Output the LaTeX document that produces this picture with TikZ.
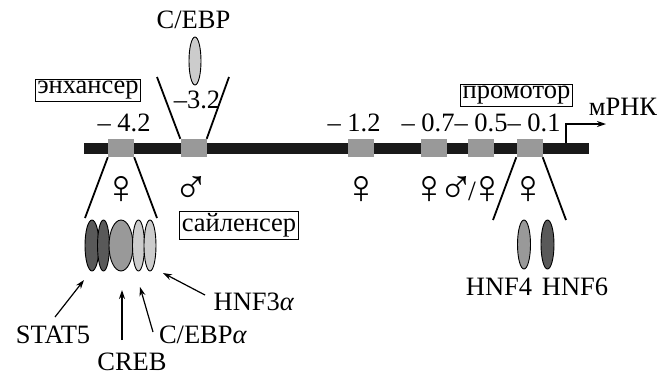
\documentclass[tikz,border=0pt]{standalone}
\usepackage{fontspec}
\setmainfont{Liberation Serif}
\usetikzlibrary{shapes.geometric,arrows.meta}
\definecolor{boxgray}{gray}{0.6}
\definecolor{darkg}{gray}{0.35}
\definecolor{midg}{gray}{0.6}
\definecolor{lightg}{gray}{0.8}
\begin{document}
\begin{tikzpicture}[x=1pt,y=-1pt,
  txt/.style={font=\fontsize{26.5}{26.5}\selectfont, inner sep=0pt},
  lbl/.style={draw, line width=0.8pt, font=\fontsize{26.5}{26.5}\selectfont, inner sep=2pt},
  gbox/.style={fill=boxgray, minimum width=26pt, minimum height=18pt, inner sep=0pt},
  tf/.style={ellipse, draw, line width=0.9pt, inner sep=0pt},
  sex/.style={font=\fontsize{48}{48}\selectfont, inner sep=0pt},
  funnel/.style={line width=1.8pt},
  ptr/.style={line width=1.2pt, -{Stealth[length=9pt,width=6pt]}}
]
\useasboundingbox (0,0) rectangle (672,376);
% DNA bar
\node[fill=black!90, minimum width=505pt, minimum height=11pt, inner sep=0pt] (dna) at (336.5,148.5) {};
% boxes
\node[gbox] (b1) at (121,148) {};
\node[gbox] (b2) at (193.5,148) {};
\node[gbox] (b3) at (361,148) {};
\node[gbox] (b4) at (433.5,148) {};
\node[gbox] (b5) at (481,148) {};
\node[gbox] (b6) at (529.5,148) {};
% position labels
\node[txt] (p42) at (124,123) {– 4.2};
\node[txt] (p32) at (197,100) {–3.2};
\node[txt] (p12) at (354,123) {– 1.2};
\node[txt] (p07) at (481,123) {– 0.7– 0.5– 0.1};
% boxed labels
\node[lbl] (enh) at (88,90) {энхансер};
\node[lbl] (prom) at (516.5,95) {промотор};
\node[lbl] (sil) at (239,225.5) {сайленсер};
% mRNA
\node[txt] (mrna) at (623,107) {мРНК};
\coordinate (tss) at (566,143);
\coordinate (tssup) at (566,124);
\coordinate (tssend) at (606,124);
\draw[line width=1.2pt, -{Stealth[length=9pt,width=6pt]}] (tss) -- (tssup) -- (tssend);
% C/EBP top
\node[txt] (cebp) at (193.5,20) {C/EBP};
\node[tf, fill=lightg, minimum width=12pt, minimum height=48pt] (e0) at (195,61) {};
\coordinate (f2l) at (157,77);
\coordinate (f2r) at (229,77);
\draw[funnel] (b2.north west) -- (f2l);
\draw[funnel] (b2.north east) -- (f2r);
% enhancer funnel
\coordinate (f1l) at (85,218);
\coordinate (f1r) at (157,218);
\draw[funnel] (b1.south west) -- (f1l);
\draw[funnel] (b1.south east) -- (f1r);
% cluster
\node[tf, fill=darkg, minimum width=14pt, minimum height=51pt] (c1) at (92,245.5) {};
\node[tf, fill=darkg, minimum width=12pt, minimum height=51pt] (c2) at (103.5,245.5) {};
\node[tf, fill=midg, minimum width=24pt, minimum height=51pt] (c3) at (121,245.5) {};
\node[tf, fill=lightg, minimum width=12pt, minimum height=51pt] (c4) at (138.5,245.5) {};
\node[tf, fill=lightg, minimum width=12pt, minimum height=51pt] (c5) at (150,245.5) {};
% factor labels
\node[txt] (stat) at (53,335) {STAT5};
\node[txt] (creb) at (132,362) {CREB};
\node[txt] (cebpa) at (203,335) {C/EBP\textit{α}};
\node[txt] (hnf3) at (254,302) {HNF3\textit{α}};
\coordinate (a1s) at (55,317);
\coordinate (a1e) at (84,280);
\coordinate (a2s) at (122,340);
\coordinate (a2e) at (122,290);
\coordinate (a3s) at (153,332);
\coordinate (a3e) at (140,287);
\coordinate (a4s) at (205,295);
\coordinate (a4e) at (163,273);
\draw[ptr] (a1s) -- (a1e);
\draw[ptr] (a2s) -- (a2e);
\draw[ptr] (a3s) -- (a3e);
\draw[ptr] (a4s) -- (a4e);
% sex symbols
\node[sex] (s1) at (121.5,189.5) {♀};
\node[sex] (s2) at (191,189.5) {♂};
\node[sex] (s3) at (361,189.5) {♀};
\node[sex] (s4) at (429.5,189.5) {♀};
\node[sex] (s5) at (472,189.5) {♂\kern-6pt\raisebox{3pt}{\fontsize{28}{28}\selectfont /}\kern-6pt♀};
\node[sex] (s6) at (528,189.5) {♀};
% promoter funnel
\coordinate (f6l) at (493,220);
\coordinate (f6r) at (566,220);
\draw[funnel] (b6.south west) -- (f6l);
\draw[funnel] (b6.south east) -- (f6r);
\node[tf, fill=midg, minimum width=13pt, minimum height=49pt] (h4) at (524,244.5) {};
\node[tf, fill=darkg, minimum width=13pt, minimum height=49pt] (h6) at (547.5,244.5) {};
\node[txt] (h4t) at (499,287) {HNF4};
\node[txt] (h6t) at (575,287) {HNF6};
\end{tikzpicture}
\end{document}
